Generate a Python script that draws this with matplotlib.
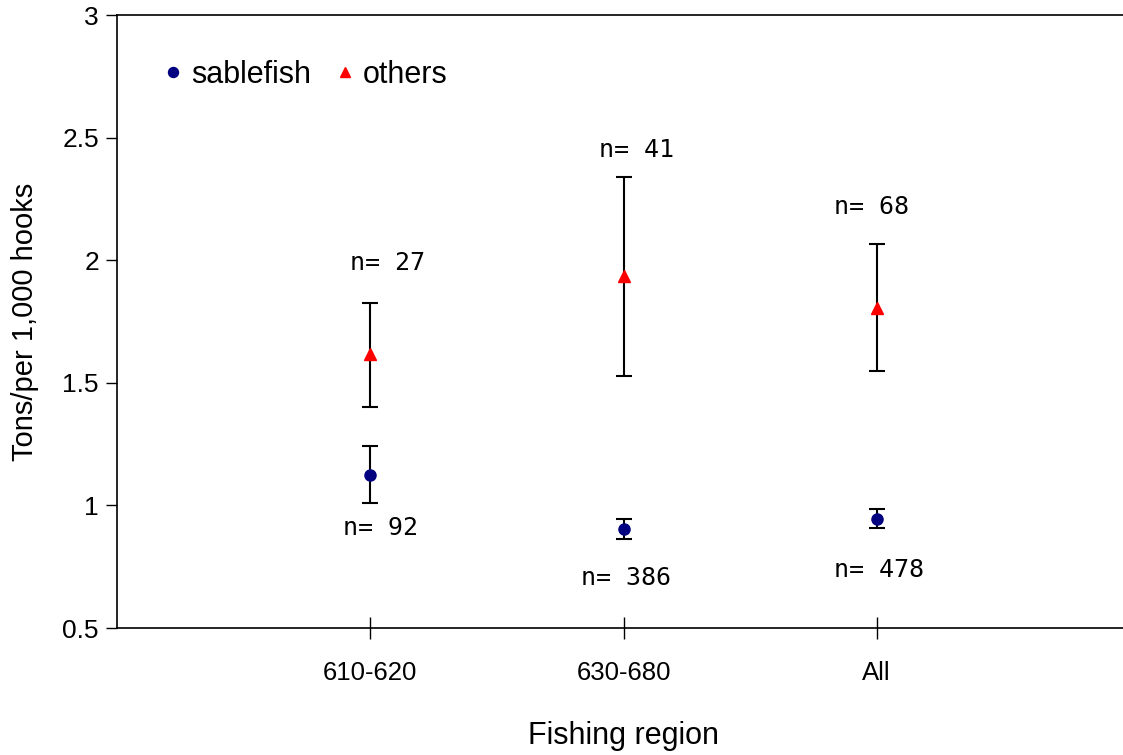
import numpy as np
import matplotlib.pyplot as plt

plt.rcParams['font.family'] = ['Liberation Sans', 'DejaVu Sans']

regions = ['610-620', '630-680', 'All']
sable = [1.123, 0.903, 0.944]
sable_lo = [1.009, 0.862, 0.907]
sable_hi = [1.241, 0.944, 0.985]
others = [1.616, 1.937, 1.807]
others_lo = [1.400, 1.526, 1.550]
others_hi = [1.827, 2.340, 2.068]
n_sable = [92, 386, 478]
n_others = [27, 41, 68]

x = np.arange(1, len(regions) + 1)

fig = plt.figure(figsize=(11.23, 7.55), dpi=100)
ax = fig.add_axes([117 / 1123, 127 / 755, 1013 / 1123, 613 / 755])

s_err = [np.array(sable) - np.array(sable_lo), np.array(sable_hi) - np.array(sable)]
o_err = [np.array(others) - np.array(others_lo), np.array(others_hi) - np.array(others)]

ax.errorbar(x, others, yerr=o_err, fmt='none', ecolor='black', elinewidth=1.5,
            capsize=6, capthick=1.5, zorder=2)
ax.errorbar(x, sable, yerr=s_err, fmt='none', ecolor='black', elinewidth=1.5,
            capsize=6, capthick=1.5, zorder=2)
ax.plot(x, sable, 'o', color='#000080', markersize=8, label='sablefish', zorder=3)
ax.plot(x, others, '^', color='#ff0000', markersize=8, label='others', zorder=3)

# n labels
o_dx = [0.07, 0.05, -0.02]
o_dy = [0.16, 0.11, 0.15]
s_dx = [0.04, 0.01, 0.01]
s_dy = [-0.10, -0.16, -0.17]
for i in range(len(regions)):
    ax.text(x[i] + o_dx[i], others_hi[i] + o_dy[i], 'n= %d' % n_others[i],
            family='DejaVu Sans Mono', fontsize=18, ha='center', va='center')
    ax.text(x[i] + s_dx[i], sable_lo[i] + s_dy[i], 'n= %d' % n_sable[i],
            family='DejaVu Sans Mono', fontsize=18, ha='center', va='center')

ax.set_xlim(0, 4)
ax.set_ylim(0.5, 3)
ax.set_xticks(x)
ax.set_xticklabels(regions, fontsize=18.5)
ax.set_yticks(np.arange(0.5, 3.01, 0.5))
ax.set_yticklabels(['0.5', '1', '1.5', '2', '2.5', '3'], fontsize=19)
ax.tick_params(axis='x', direction='inout', length=16, width=1, pad=16)
ax.tick_params(axis='y', direction='out', length=8, width=1, pad=5)
ax.spines['right'].set_visible(False)
for sp in ['left', 'bottom', 'top']:
    ax.spines[sp].set_linewidth(1.2)

ax.set_xlabel('Fishing region', fontsize=22, labelpad=26)
ax.set_ylabel('Tons/per 1,000 hooks', fontsize=21, labelpad=17)

ax.legend(loc='upper left', bbox_to_anchor=(0.013, 0.972), ncol=2, frameon=False,
          fontsize=22, handletextpad=0.1, columnspacing=0.6, handlelength=1,
          markerscale=0.9)

fig.savefig('out.png', dpi=100)
